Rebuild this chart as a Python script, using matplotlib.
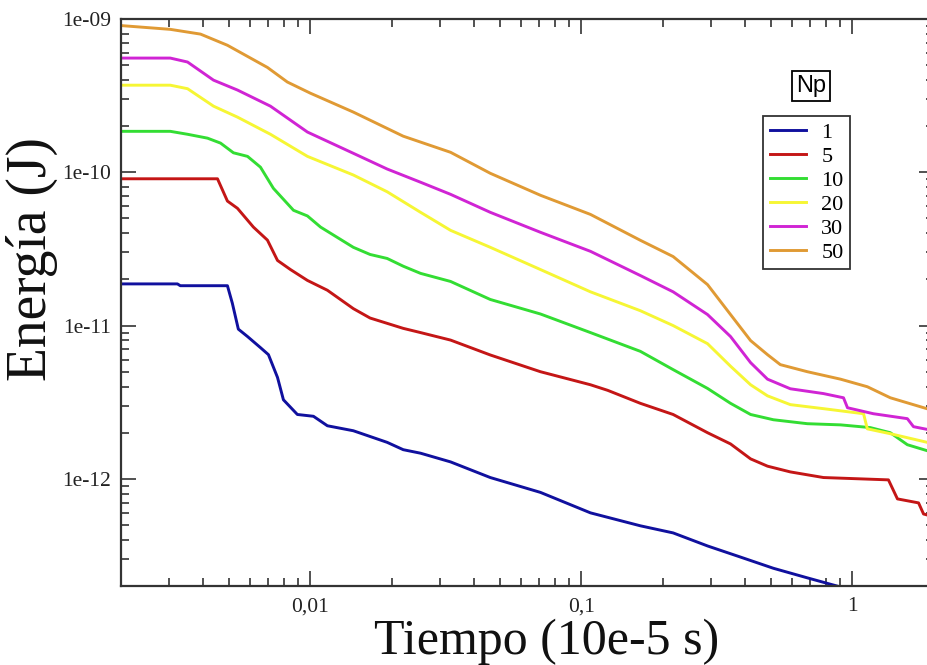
import matplotlib
matplotlib.use("Agg")
import matplotlib.pyplot as plt
from matplotlib.ticker import LogLocator, FixedLocator, FixedFormatter, NullFormatter

# ---------------- data ----------------
x1 = [0.002, 0.00323, 0.00331, 0.00494, 0.00515, 0.00542, 0.00586, 0.00654, 0.0070, 0.00756, 0.00795,
      0.00895, 0.01026, 0.01155, 0.0144, 0.0192, 0.022, 0.0255, 0.0329, 0.0461, 0.0706, 0.108, 0.165,
      0.218, 0.292, 0.386, 0.511, 0.682, 0.904, 1.0]
y1 = [1.87e-11, 1.87e-11, 1.82e-11, 1.82e-11, 1.40e-11, 9.48e-12, 8.48e-12, 7.18e-12, 6.46e-12, 4.59e-12,
      3.28e-12, 2.63e-12, 2.56e-12, 2.22e-12, 2.06e-12, 1.73e-12, 1.55e-12, 1.47e-12, 1.29e-12, 1.02e-12,
      8.16e-13, 6.00e-13, 4.94e-13, 4.44e-13, 3.65e-13, 3.09e-13, 2.61e-13, 2.26e-13, 1.97e-13, 1.85e-13]

x5 = [0.002, 0.00454, 0.00494, 0.00538, 0.00616, 0.00694, 0.00756, 0.00844, 0.00975, 0.01155, 0.0144,
      0.0166, 0.022, 0.0255, 0.0329, 0.0461, 0.0706, 0.108, 0.125, 0.165, 0.218, 0.292, 0.355, 0.421,
      0.486, 0.590, 0.782, 1.358, 1.466, 1.754, 1.83, 2.0]
y5 = [9.07e-11, 9.07e-11, 6.49e-11, 5.82e-11, 4.39e-11, 3.61e-11, 2.66e-11, 2.32e-11, 1.97e-11, 1.70e-11,
      1.29e-11, 1.12e-11, 9.59e-12, 9.00e-12, 8.04e-12, 6.43e-12, 5.00e-12, 4.11e-12, 3.78e-12, 3.11e-12,
      2.63e-12, 2.00e-12, 1.69e-12, 1.35e-12, 1.21e-12, 1.11e-12, 1.02e-12, 9.85e-13, 7.40e-13, 6.97e-13,
      5.90e-13, 5.65e-13]

x10 = [0.002, 0.00304, 0.00352, 0.00417, 0.00466, 0.0052, 0.00586, 0.00654, 0.0073, 0.00866, 0.00975,
       0.0109, 0.0144, 0.0166, 0.0192, 0.022, 0.0255, 0.0329, 0.0461, 0.0706, 0.108, 0.165, 0.218, 0.292,
       0.355, 0.421, 0.511, 0.682, 0.904, 1.164, 1.38, 1.595, 2.0]
y10 = [1.85e-10, 1.85e-10, 1.77e-10, 1.67e-10, 1.55e-10, 1.34e-10, 1.27e-10, 1.08e-10, 7.86e-11, 5.65e-11,
       5.19e-11, 4.39e-11, 3.24e-11, 2.91e-11, 2.74e-11, 2.44e-11, 2.19e-11, 1.94e-11, 1.48e-11, 1.19e-11,
       9.00e-12, 6.79e-12, 5.16e-12, 3.89e-12, 3.11e-12, 2.63e-12, 2.43e-12, 2.29e-12, 2.25e-12, 2.16e-12,
       2.00e-12, 1.67e-12, 1.48e-12]

x20 = [0.002, 0.00304, 0.00352, 0.00439, 0.00538, 0.00712, 0.00975, 0.0144, 0.0192, 0.0255, 0.0329,
       0.0461, 0.0706, 0.108, 0.165, 0.218, 0.292, 0.355, 0.421, 0.486, 0.590, 0.782, 1.099, 1.135, 1.38, 2.0]
y20 = [3.70e-10, 3.70e-10, 3.51e-10, 2.70e-10, 2.29e-10, 1.77e-10, 1.27e-10, 9.6e-11, 7.46e-11, 5.48e-11,
       4.18e-11, 3.24e-11, 2.32e-11, 1.66e-11, 1.25e-11, 1.00e-11, 7.62e-12, 5.43e-12, 4.11e-12, 3.48e-12,
       3.05e-12, 2.87e-12, 2.66e-12, 2.12e-12, 1.97e-12, 1.69e-12]

x30 = [0.002, 0.00304, 0.00352, 0.00439, 0.00538, 0.00712, 0.00975, 0.0144, 0.0192, 0.0255, 0.0329,
       0.0461, 0.0706, 0.108, 0.165, 0.218, 0.292, 0.355, 0.421, 0.486, 0.590, 0.782, 0.927, 0.959, 1.195,
       1.595, 1.68, 2.0]
y30 = [5.56e-10, 5.56e-10, 5.24e-10, 3.99e-10, 3.44e-10, 2.70e-10, 1.83e-10, 1.33e-10, 1.05e-10, 8.61e-11,
       7.18e-11, 5.48e-11, 4.06e-11, 3.05e-11, 2.12e-11, 1.66e-11, 1.18e-11, 8.48e-12, 5.73e-12, 4.47e-12,
       3.87e-12, 3.60e-12, 3.38e-12, 2.91e-12, 2.66e-12, 2.47e-12, 2.19e-12, 2.06e-12]

x50 = [0.002, 0.00304, 0.00393, 0.00494, 0.00694, 0.00822, 0.01, 0.0144, 0.022, 0.0329, 0.0461, 0.0706,
       0.108, 0.165, 0.218, 0.292, 0.355, 0.421, 0.486, 0.542, 0.682, 0.904, 1.135, 1.38, 2.0]
y50 = [9.06e-10, 8.56e-10, 7.97e-10, 6.74e-10, 4.83e-10, 3.88e-10, 3.28e-10, 2.47e-10, 1.72e-10, 1.35e-10,
       9.85e-11, 7.08e-11, 5.31e-11, 3.60e-11, 2.82e-11, 1.85e-11, 1.18e-11, 7.98e-12, 6.46e-12, 5.56e-12,
       5.00e-12, 4.47e-12, 3.99e-12, 3.38e-12, 2.78e-12]

series_labels = ["1", "5", "10", "20", "30", "50"]
series_x = [x1, x5, x10, x20, x30, x50]
series_y = [y1, y5, y10, y20, y30, y50]
colors = ["#10109e", "#c41616", "#33dd33", "#f6f634", "#d024d4", "#e09a34"]

x_tick_vals = [0.01, 0.1, 1]
x_tick_labels = ["0,01", "0,1", "1"]
y_tick_vals = [1e-12, 1e-11, 1e-10, 1e-9]
y_tick_labels = ["1e-12", "1e-11", "1e-10", "1e-09"]

# ---------------- figure ----------------
W, H = 928, 665
fig = plt.figure(figsize=(W / 100, H / 100), dpi=100)
fig.patch.set_facecolor("white")

left, right, top, bottom = 121, 934, 19, 586
ax = fig.add_axes([left / W, 1 - bottom / H, (right - left) / W, (bottom - top) / H])

for xs, ys, c, lab in zip(series_x, series_y, colors, series_labels):
    ax.plot(xs, ys, color=c, lw=2.1, label=lab)

ax.set_xscale("log")
ax.set_yscale("log")
ax.set_xlim(0.002, 2)
ax.set_ylim(2e-13, 1e-9)

serif = "Liberation Serif"
ax.xaxis.set_major_locator(FixedLocator(x_tick_vals))
ax.xaxis.set_major_formatter(FixedFormatter(x_tick_labels))
ax.yaxis.set_major_locator(FixedLocator(y_tick_vals))
ax.yaxis.set_major_formatter(FixedFormatter(y_tick_labels))
ax.xaxis.set_minor_locator(LogLocator(base=10, subs=range(2, 10), numticks=20))
ax.yaxis.set_minor_locator(LogLocator(base=10, subs=range(2, 10), numticks=20))
ax.xaxis.set_minor_formatter(NullFormatter())
ax.yaxis.set_minor_formatter(NullFormatter())

ax.tick_params(which="both", direction="in", top=True, right=True, color="#333333", width=1.2)
ax.tick_params(which="major", length=11, labelsize=15.5, pad=7)
ax.tick_params(which="minor", length=6)
for lab in ax.get_xticklabels() + ax.get_yticklabels():
    lab.set_family(serif)
    lab.set_color("#222222")
ax.tick_params(axis="x", pad=8)

for sp in ax.spines.values():
    sp.set_linewidth(1.6)
    sp.set_color("#333333")

# axis labels
fig.text(547 / W, 1 - 654 / H, "Tiempo (10e-5 s)", family=serif, fontsize=36,
         ha="center", va="baseline", color="#111111")
fig.text(32 / W, 1 - 259 / H, "Energía (J)", family=serif, fontsize=40,
         ha="center", va="center", rotation=90, color="#111111")

# legend
leg = ax.legend(loc="upper left", bbox_to_anchor=(763 / W, 1 - 116 / H),
                bbox_transform=fig.transFigure, frameon=True, fancybox=False,
                edgecolor="#333333", prop={"family": serif, "size": 16},
                handlelength=1.62, handletextpad=0.7, labelspacing=0.15,
                borderpad=0.3, borderaxespad=0, framealpha=1)
leg.get_frame().set_linewidth(1.3)

# legend title box
fig.text(811 / W, 1 - 86 / H, "Np", family="Liberation Sans", fontsize=17,
         ha="center", va="center",
         bbox=dict(boxstyle="square,pad=0.18", fc="white", ec="black", lw=1.3))

fig.savefig("out.png", dpi=100)
